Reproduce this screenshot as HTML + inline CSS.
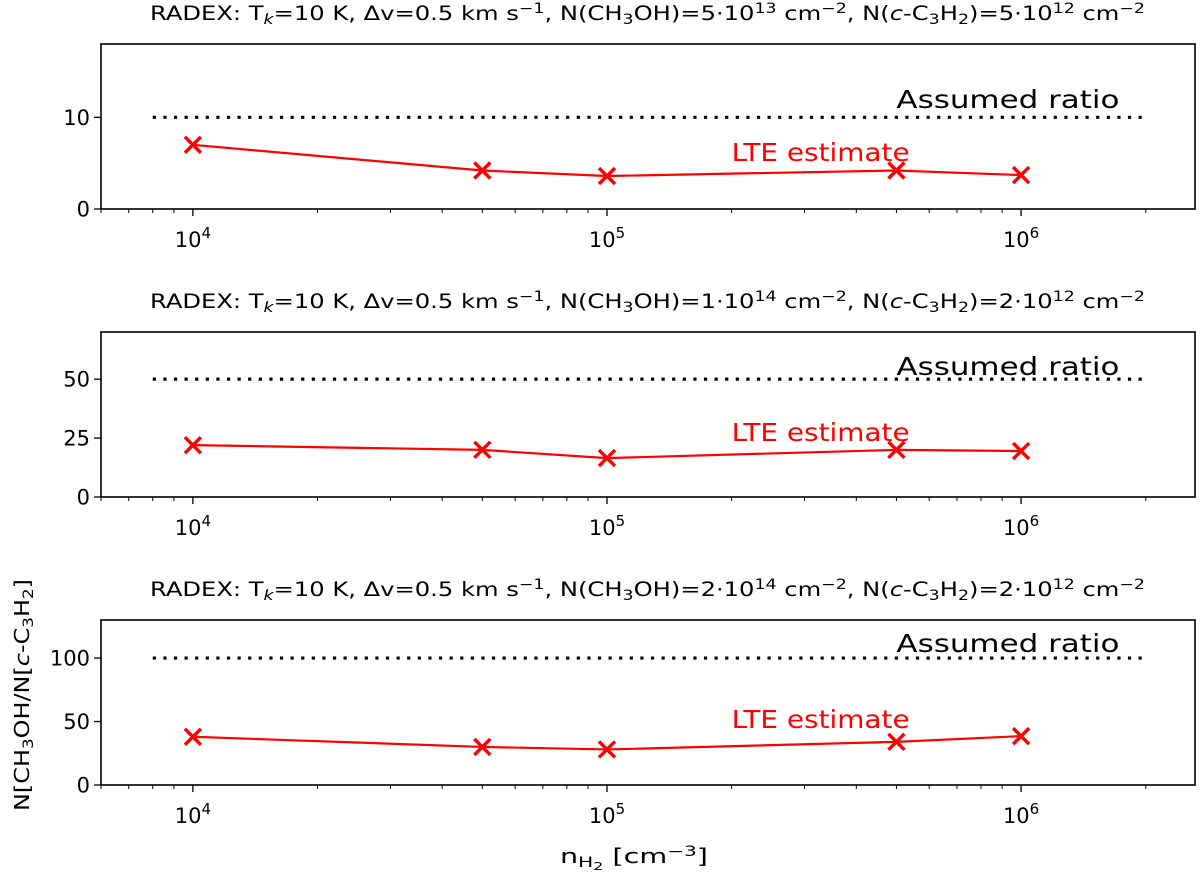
<!DOCTYPE html>
<html><head><meta charset="utf-8"><style>
body{margin:0;background:#fff}
svg{display:block;font-family:"DejaVu Sans","Liberation Sans",sans-serif}
</style></head><body>
<svg id="chart" width="1200" height="872" xmlns="http://www.w3.org/2000/svg"></svg>
<script>
const densities = [1e4, 5e4, 1e5, 5e5, 1e6];
const lte1 = [7.0, 4.2, 3.6, 4.2, 3.7];
const lte2 = [22, 20, 16.5, 20, 19.5];
const lte3 = [38, 30, 28, 34, 38.5];
const assumed = [10, 50, 100];
const yMaxes = [18, 70, 130];
const yTicks1 = [0, 10];
const yTicks2 = [0, 25, 50];
const yTicks3 = [0, 50, 100];
const assumedLabelY = [12, 55.5, 112];
const lteLabelY = [6.2, 27.5, 52];
const xTickExps = [4, 5, 6];
const titleN1 = ["5·10", "13", "5·10", "12"];
const titleN2 = ["1·10", "14", "2·10", "12"];
const titleN3 = ["2·10", "14", "2·10", "12"];

const svg = document.getElementById('chart');
const NS = 'http://www.w3.org/2000/svg';
function el(tag, attrs, parent) {
  const e = document.createElementNS(NS, tag);
  for (const k in attrs) e.setAttribute(k, attrs[k]);
  (parent || svg).appendChild(e);
  return e;
}
const X0 = 101, X1 = 1195, XMIN = 6e3, XMAX = 2.63e6;
const xs = v => X0 + (Math.log10(v) - Math.log10(XMIN)) / (Math.log10(XMAX) - Math.log10(XMIN)) * (X1 - X0);
const panels = [
  {top: 44, data: lte1, ticks: yTicks1, title: titleN1},
  {top: 332, data: lte2, ticks: yTicks2, title: titleN2},
  {top: 620, data: lte3, ticks: yTicks3, title: titleN3}
];
const H = 165;
panels.forEach((p, i) => {
  const g = el('g', {});
  
  
  const bot = p.top + H, ymax = yMaxes[i];
  const ys = v => bot - v / ymax * H;
  const t = el('text', {x: 150, y: p.top - 24, 'font-size': 19.5, textLength: 995, lengthAdjust: 'spacingAndGlyphs'}, g);
  
  
  t.innerHTML = 'RADEX: T<tspan font-size="14" dy="4" font-style="italic">k</tspan><tspan dy="-4">=10 K, Δv=0.5 km s</tspan><tspan font-size="14" dy="-7">−1</tspan><tspan dy="7">, N(CH</tspan><tspan font-size="14" dy="4">3</tspan><tspan dy="-4">OH)=' + p.title[0] + '</tspan><tspan font-size="14" dy="-7">' + p.title[1] + '</tspan><tspan dy="7"> cm</tspan><tspan font-size="14" dy="-7">−2</tspan><tspan dy="7">, N(</tspan><tspan font-style="italic">c</tspan><tspan>-C</tspan><tspan font-size="14" dy="4">3</tspan><tspan dy="-4">H</tspan><tspan font-size="14" dy="4">2</tspan><tspan dy="-4">)=' + p.title[2] + '</tspan><tspan font-size="14" dy="-7">' + p.title[3] + '</tspan><tspan dy="7"> cm</tspan><tspan font-size="14" dy="-7">−2</tspan>';
  const r = el('rect', {x: X0, y: p.top, width: X1 - X0, height: H, fill: 'none', stroke: '#000', 'stroke-width': 1.6}, g);
  
  
  p.ticks.forEach(v => {
    const y = ys(v);
    el('line', {x1: X0 - 7, x2: X0, y1: y, y2: y, stroke: '#000', 'stroke-width': 1.3}, g);
    const tl = el('text', {x: X0 - 11, y: y + 7.5, 'text-anchor': 'end', 'font-size': 21}, g);
    
    
    tl.textContent = v;
  });
  for (let e = 3; e <= 6; e++) for (let m = 1; m <= 9; m++) {
    const v = m * Math.pow(10, e);
    if (v < XMIN || v > XMAX) continue;
    const x = xs(v);
    el('line', {x1: x, x2: x, y1: bot, y2: bot + (m === 1 ? 7 : 4), stroke: '#000', 'stroke-width': m === 1 ? 1.3 : 1}, g);
  }
  xTickExps.forEach(e => {
    const tl = el('text', {x: xs(Math.pow(10, e)), y: bot + 38, 'text-anchor': 'middle', 'font-size': 21}, g);
    
    
    tl.innerHTML = '10<tspan font-size="15" dy="-9">' + e + '</tspan>';
  });
  const al = el('line', {x1: xs(8e3), x2: xs(2e6), y1: ys(assumed[i]), y2: ys(assumed[i]), stroke: '#000', 'stroke-width': 3.2, 'stroke-dasharray': '3.2 7.4'}, g);
  
  
  const at = el('text', {x: xs(5e5), y: ys(assumedLabelY[i]) + 9, 'font-size': 25, textLength: 223, lengthAdjust: 'spacingAndGlyphs'}, g);
  
  
  at.textContent = 'Assumed ratio';
  const pts = densities.map((d, k) => xs(d) + ',' + ys(p.data[k])).join(' ');
  const pl = el('polyline', {points: pts, fill: 'none', stroke: '#f00', 'stroke-width': 2.2}, g);
  
  
  densities.forEach((d, k) => {
    const x = xs(d), y = ys(p.data[k]);
    const mk = el('path', {d: `M${x-8},${y-8}L${x+8},${y+8}M${x-8},${y+8}L${x+8},${y-8}`, stroke: '#f00', 'stroke-width': 3.4}, g);
    
    
  });
  const lt = el('text', {x: xs(2e5), y: ys(lteLabelY[i]) + 9, 'font-size': 25, fill: '#f00', textLength: 178, lengthAdjust: 'spacingAndGlyphs'}, g);
  
  
  lt.textContent = 'LTE estimate';
});
const xl = el('text', {x: 560, y: 863, 'font-size': 20, textLength: 148, lengthAdjust: 'spacingAndGlyphs'});


xl.innerHTML = 'n<tspan font-size="14" dy="4">H<tspan font-size="11" dy="3">2</tspan></tspan><tspan dy="-7"> [cm</tspan><tspan font-size="14" dy="-7">−3</tspan><tspan dy="7">]</tspan>';
const yl = el('text', {x: -811, y: 0, 'font-size': 20, transform: 'translate(29,0) rotate(-90)', textLength: 232, lengthAdjust: 'spacingAndGlyphs'});


yl.innerHTML = 'N[CH<tspan font-size="14" dy="4">3</tspan><tspan dy="-4">OH/N[</tspan><tspan font-style="italic">c</tspan><tspan>-C</tspan><tspan font-size="14" dy="4">3</tspan><tspan dy="-4">H</tspan><tspan font-size="14" dy="4">2</tspan><tspan dy="-4">]</tspan>';
</script>
</body></html>
